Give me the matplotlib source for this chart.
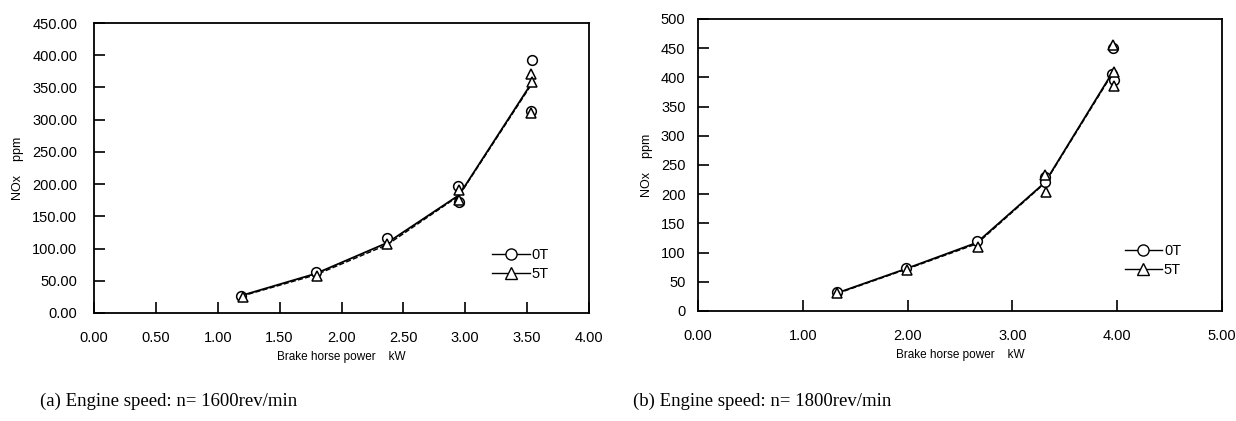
import numpy as np
import matplotlib
matplotlib.use("Agg")
import matplotlib.pyplot as plt
from matplotlib.ticker import FixedLocator, FormatStrFormatter

# (a) n = 1600 rev/min
a_0t_x = [1.19, 1.79, 2.37, 2.94, 2.95, 3.54, 3.53]
a_0t_y = [27, 64, 116, 197, 172, 393, 313]
a_5t_x = [1.20, 1.80, 2.37, 2.95, 2.95, 3.53, 3.54, 3.53]
a_5t_y = [25, 57, 107, 176, 191, 371, 359, 311]
a_line_x = [1.19, 1.79, 2.37, 2.95, 3.54]
a_0t_line = [27, 61, 109, 183, 358]
a_5t_line = [26, 59, 106, 182, 356]

# (b) n = 1800 rev/min
b_0t_x = [1.33, 1.98, 2.66, 3.31, 3.31, 3.96, 3.95, 3.97]
b_0t_y = [32, 73, 120, 230, 221, 450, 405, 395]
b_5t_x = [1.33, 1.99, 2.67, 3.31, 3.32, 3.96, 3.97, 3.97]
b_5t_y = [30, 71, 109, 233, 204, 455, 410, 385]
b_line_x = [1.33, 1.98, 2.66, 3.31, 3.96]
b_0t_line = [31, 72, 117, 220, 410]
b_5t_line = [30, 71, 115, 219, 408]

plt.rcParams['font.family'] = ['Liberation Sans', 'DejaVu Sans']

fig = plt.figure(figsize=(12.36, 4.21), dpi=100)
W, H = 1236, 421


def make_axes(left, top, right, bottom):
    return fig.add_axes([left / W, 1 - bottom / H, (right - left) / W, (bottom - top) / H])


def style(ax, xticks, yticks, xfmt, yfmt, xlim, ylim, ypad):
    ax.set_xlim(*xlim)
    ax.set_ylim(*ylim)
    ax.xaxis.set_major_locator(FixedLocator(xticks))
    ax.yaxis.set_major_locator(FixedLocator(yticks))
    ax.xaxis.set_major_formatter(FormatStrFormatter(xfmt))
    ax.yaxis.set_major_formatter(FormatStrFormatter(yfmt))
    ax.tick_params(direction='in', length=8, width=1.2, labelsize=10.5,
                   top=False, right=False)
    ax.tick_params(axis='x', pad=13)
    ax.tick_params(axis='y', pad=ypad)
    for s in ax.spines.values():
        s.set_linewidth(1.3)
    ax.set_xlabel('Brake horse power    kW', fontsize=8.5, labelpad=4)
    ax.set_ylabel('NOx    ppm', fontsize=9, labelpad=6)


def draw(ax, lx, l0, l5, x0, y0, x5, y5, anchor):
    ax.plot(lx, l0, '-', color='black', lw=1.3)
    ax.plot(lx, l5, '--', color='black', lw=1.0)
    ax.plot(x0, y0, 'o', mfc='white', mec='black', ms=7, mew=1.1, ls='none')
    ax.plot(x5, y5, '^', mfc='white', mec='black', ms=7, mew=1.1, ls='none')
    h0, = ax.plot([], [], '-o', color='black', mfc='white', ms=8, lw=1.0)
    h5, = ax.plot([], [], '-^', color='black', mfc='white', ms=8, lw=1.0)
    ax.legend([h0, h5], ['0T', '5T'], loc='upper left', bbox_to_anchor=anchor,
              frameon=False, fontsize=10.5, handlelength=2.6, handletextpad=0.1,
              labelspacing=0.35, borderpad=0, borderaxespad=0)


ax1 = make_axes(94, 23, 589, 313)
draw(ax1, a_line_x, a_0t_line, a_5t_line, a_0t_x, a_0t_y, a_5t_x, a_5t_y, (0.805, 0.225))
style(ax1, np.arange(0, 4.01, 0.5), np.arange(0, 451, 50), '%.2f', '%.2f',
      (0, 4), (0, 450), 12)

ax2 = make_axes(698, 19, 1222, 311)
draw(ax2, b_line_x, b_0t_line, b_5t_line, b_0t_x, b_0t_y, b_5t_x, b_5t_y, (0.814, 0.23))
style(ax2, np.arange(0, 5.01, 1.0), np.arange(0, 501, 50), '%.2f', '%d',
      (0, 5), (0, 500), 9)

fig.text(40 / W, 1 - 401 / H, '(a) Engine speed: n= 1600rev/min', family='Liberation Serif',
         fontsize=13.5, va='center', ha='left')
fig.text(633 / W, 1 - 401 / H, '(b) Engine speed: n= 1800rev/min', family='Liberation Serif',
         fontsize=13.5, va='center', ha='left')

fig.savefig('out.png', dpi=100)
